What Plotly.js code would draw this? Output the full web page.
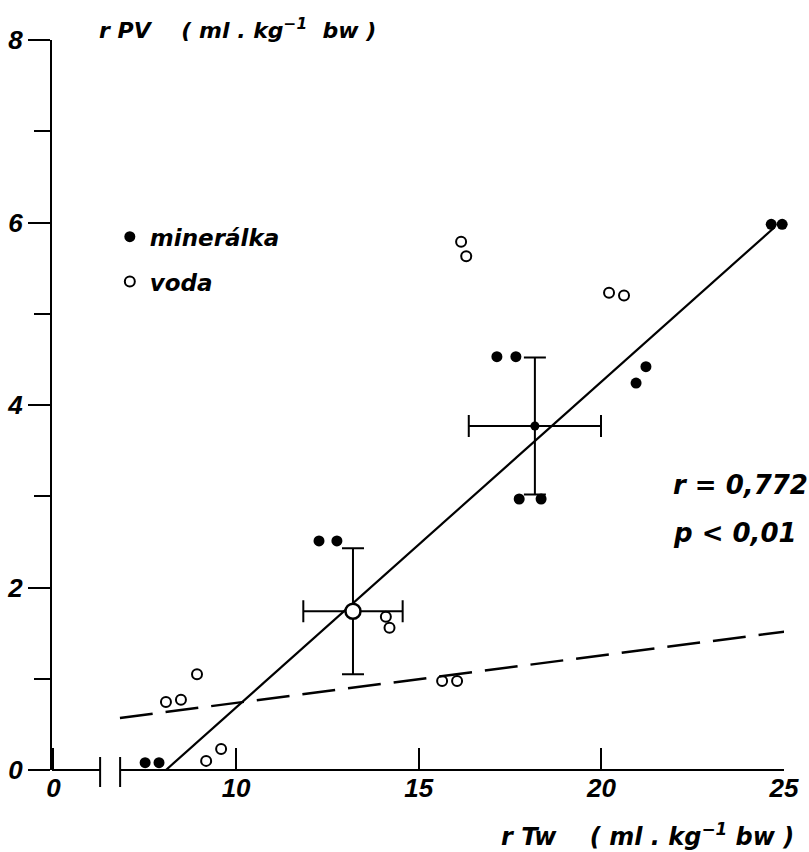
<!DOCTYPE html>
<html>
<head>
<meta charset="utf-8">
<script src="https://cdn.plot.ly/plotly-3.0.1.min.js"></script>
<style>html,body{margin:0;padding:0;background:#fff;}</style>
</head>
<body>
<div id="chart" style="width:809px;height:852px;"></div>
<script>
// minerálka (filled) points
const mineralkaX = [7.51, 7.89, 12.27, 12.76, 17.14, 17.66, 17.75, 18.35, 20.95, 21.22, 24.65, 24.95];
const mineralkaY = [0.08, 0.08, 2.51, 2.51, 4.53, 4.53, 2.97, 2.97, 4.24, 4.42, 5.98, 5.98];
// voda (open) points
const vodaX = [8.08, 8.49, 8.93, 9.18, 9.59, 14.10, 14.20, 15.64, 16.05, 16.16, 16.30, 20.21, 20.62];
const vodaY = [0.745, 0.77, 1.05, 0.10, 0.23, 1.68, 1.56, 0.975, 0.975, 5.79, 5.63, 5.23, 5.20];
// group means with SD
const meanVodaX = [13.2], meanVodaY = [1.74], meanVodaSdX = [1.36], meanVodaSdY = [0.69];
const meanMinX = [18.18], meanMinY = [3.77], meanMinSdX = [1.81], meanMinSdY = [0.75];
// regression lines
const solidLineX = [8.08, 24.72], solidLineY = [0.0, 5.94];
const dashLineX = [6.82, 25.08], dashLineY = [0.57, 1.52];
// axis ticks (axis break: "0" is placed at position 5)
const xTickVals = [5, 10, 15, 20, 25];
const xTickText = ['0', '10', '15', '20', '25'];
const yTickVals = [0, 2, 4, 6, 8];
const yTickText = ['0', '2', '4', '6', '8'];
const xBreak = [6.277, 6.825];

const NB = '\u00a0';
const tickFont = {family: 'Liberation Sans, Arial, sans-serif', size: 26, color: '#000', weight: 'bold', style: 'italic'};
const txtFont = (s) => ({family: 'DejaVu Sans, sans-serif', size: s, color: '#000', weight: 'bold', style: 'italic'});

const traces = [
  {x: dashLineX, y: dashLineY, mode: 'lines', line: {color: '#000', width: 2.5, dash: '33px,13px'}, showlegend: false, hoverinfo: 'skip'},
  {x: solidLineX, y: solidLineY, mode: 'lines', line: {color: '#000', width: 2.2}, showlegend: false, hoverinfo: 'skip'},
  {x: mineralkaX, y: mineralkaY, mode: 'markers', name: 'minerálka', legendgroup: 'a',
   marker: {symbol: 'circle', size: 11, color: '#000'}, cliponaxis: false},
  {x: vodaX, y: vodaY, mode: 'markers', name: 'voda', legendgroup: 'b',
   marker: {symbol: 'circle-open', size: 10, color: '#000', line: {width: 2, color: '#000'}}, cliponaxis: false},
  {x: meanVodaX, y: meanVodaY, mode: 'markers', showlegend: false,
   marker: {symbol: 'circle', size: 15, color: '#fff', line: {width: 2.5, color: '#000'}},
   error_x: {type: 'data', array: meanVodaSdX, color: '#000', thickness: 2, width: 11},
   error_y: {type: 'data', array: meanVodaSdY, color: '#000', thickness: 2, width: 11}, cliponaxis: false},
  {x: meanMinX, y: meanMinY, mode: 'markers', showlegend: false,
   marker: {symbol: 'circle', size: 9, color: '#000'},
   error_x: {type: 'data', array: meanMinSdX, color: '#000', thickness: 2, width: 11},
   error_y: {type: 'data', array: meanMinSdY, color: '#000', thickness: 2, width: 11}, cliponaxis: false}
];

const layout = {
  width: 809, height: 852,
  margin: {l: 52, r: 25, t: 40, b: 82},
  paper_bgcolor: '#fff', plot_bgcolor: '#fff',
  showlegend: true,
  legend: {x: 0.079, xanchor: 'left', y: 0.76, yanchor: 'top', traceorder: 'grouped', tracegroupgap: 12,
           font: txtFont(23), bgcolor: 'rgba(0,0,0,0)'},
  xaxis: {range: [4.96, 25], showline: false, showgrid: false, zeroline: false,
          tickmode: 'array', tickvals: xTickVals, ticktext: xTickText,
          ticks: 'inside', ticklen: 22, tickwidth: 2, tickcolor: '#000', tickfont: tickFont},
  yaxis: {range: [0, 8], showline: true, linewidth: 2, linecolor: '#000', showgrid: false, zeroline: false,
          tickmode: 'array', tickvals: yTickVals, ticktext: yTickText,
          ticks: 'outside', ticklen: 22, tickwidth: 2, tickcolor: '#000', tickfont: tickFont,
          minor: {dtick: 1, ticks: 'outside', ticklen: 16, tickwidth: 2, tickcolor: '#000', showgrid: false}},
  shapes: [
    {type: 'line', xref: 'x', yref: 'paper', x0: 4.96, x1: xBreak[0], y0: 0, y1: 0, line: {color: '#000', width: 2}},
    {type: 'line', xref: 'x', yref: 'paper', x0: xBreak[1], x1: 25, y0: 0, y1: 0, line: {color: '#000', width: 2}},
    {type: 'line', xref: 'x', yref: 'paper', x0: xBreak[0], x1: xBreak[0], y0: -0.0233, y1: 0.0178, line: {color: '#000', width: 2}},
    {type: 'line', xref: 'x', yref: 'paper', x0: xBreak[1], x1: xBreak[1], y0: -0.0233, y1: 0.0178, line: {color: '#000', width: 2}}
  ],
  annotations: [
    {xref: 'paper', yref: 'paper', x: 0.0615, y: 1.0151, xanchor: 'left', yanchor: 'middle', showarrow: false,
     text: 'r PV' + NB.repeat(4) + '(' + NB + 'ml' + NB + '.' + NB + 'kg<sup>−1</sup>' + NB + NB + 'bw' + NB + ')', font: txtFont(22)},
    {xref: 'paper', yref: 'paper', x: 1.017, y: -0.0895, xanchor: 'right', yanchor: 'middle', showarrow: false,
     text: 'r Tw' + NB.repeat(4) + '(' + NB + 'ml' + NB + '.' + NB + 'kg<sup>−1</sup>' + NB + 'bw' + NB + ')', font: txtFont(24)},
    {xref: 'paper', yref: 'paper', x: 0.8456, y: 0.3904, xanchor: 'left', yanchor: 'middle', showarrow: false,
     text: 'r = 0,772', font: txtFont(26)},
    {xref: 'paper', yref: 'paper', x: 0.8456, y: 0.3247, xanchor: 'left', yanchor: 'middle', showarrow: false,
     text: 'p < 0,01', font: txtFont(26)}
  ]
};

Plotly.newPlot('chart', traces, layout, {displayModeBar: false, staticPlot: true});
</script>
</body>
</html>
